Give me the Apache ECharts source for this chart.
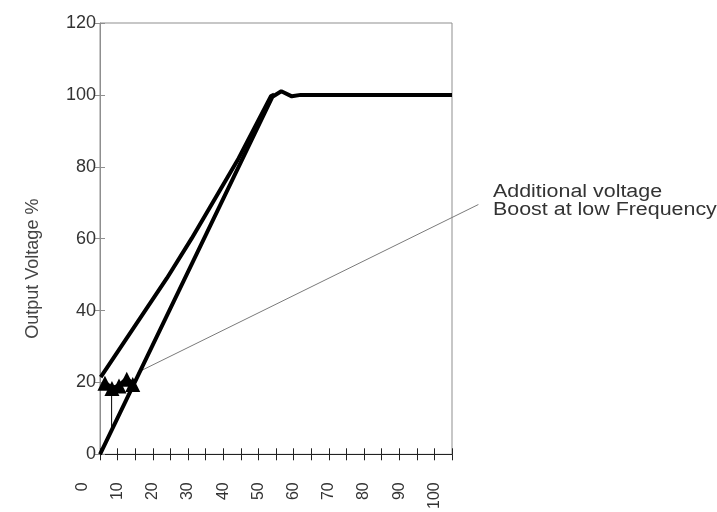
<!DOCTYPE html>
<html><head><meta charset="utf-8">
<script src="https://cdn.jsdelivr.net/npm/echarts@6/dist/echarts.min.js"></script>
<style>html,body{margin:0;padding:0;background:#fff}#c{width:717px;height:512px}</style>
</head><body><div id="c"></div>
<script>
// ---- data (frequency in the chart's labelled units, voltage in %) ----
const linearCurve  = [[5,0],[54,99.5],[56.5,101],[59.5,99.6],[62,100],[105,100]];
const boostCurve   = [[5.2,21.5],[24,49],[31,60],[44.4,82.4],[53.6,99.7],[54.5,100.1]];
const boostMarkers = [[6.4,19.8],[8.4,18.3],[10.4,19.0],[12.6,20.9],[14.3,19.4]];
const boostDrop    = [[8.3,18.4],[8.3,6.6]];
const leaderLine   = [[15.7,22.8],[112.5,69.5]];
const xMin = 5, xMax = 105, xStep = 5;
const yMin = 0, yMax = 120, yStep = 20;
const xLabelValues = [0,10,20,30,40,50,60,70,80,90,100];
const yAxisTitle = 'Output Voltage %';
const annotationLines = ['Additional voltage','Boost at low Frequency'];

const chart = echarts.init(document.getElementById('c'));
const FONT = 'Liberation Sans, Arial, sans-serif';
const grey = '#8f8f8f';

const xBase = {
  type:'value', min:xMin, max:xMax, interval:xStep,
  splitLine:{show:false}
};
chart.setOption({
  animation:false,
  grid:{left:100, right:265, top:23, bottom:52, show:true, borderColor:grey, borderWidth:1},
  xAxis:[
    Object.assign({}, xBase, {
      axisLine:{show:true, lineStyle:{color:'#222', width:1.2}},
      axisTick:{show:true, length:6, lineStyle:{color:'#222'}},
      axisLabel:{rotate:90, margin:28, fontSize:16, fontFamily:FONT, color:'#333',
        showMinLabel:true, showMaxLabel:true,
        formatter:v => xLabelValues.indexOf(v) >= 0 ? String(v) : ''}
    }),
    Object.assign({}, xBase, {
      position:'bottom',
      axisLine:{show:false}, axisLabel:{show:false},
      axisTick:{show:true, inside:true, length:6, lineStyle:{color:'#222'}}
    })
  ],
  yAxis:[
    {type:'value', min:yMin, max:yMax, interval:yStep,
      splitLine:{show:false},
      axisLine:{show:true, lineStyle:{color:grey}},
      axisTick:{show:true, length:5, lineStyle:{color:grey}},
      axisLabel:{margin:4, fontSize:18, fontFamily:FONT, color:'#333'},
      name:yAxisTitle, nameLocation:'middle', nameRotate:90, nameGap:58,
      nameTextStyle:{fontSize:18, fontFamily:FONT, color:'#444', padding:[0,60,0,0]}
    },
    {type:'value', min:yMin, max:yMax, interval:yStep, position:'left',
      splitLine:{show:false}, axisLine:{show:false}, axisLabel:{show:false},
      axisTick:{show:true, inside:true, length:5, lineStyle:{color:grey}}
    }
  ],
  series:[
    {type:'line', data:linearCurve, symbol:'none', smooth:false,
      lineStyle:{color:'#000', width:4}, z:3},
    {type:'line', data:boostCurve, symbol:'none',
      lineStyle:{color:'#000', width:4}, z:3},
    {type:'line', data:boostMarkers, symbol:'triangle', symbolSize:15,
      itemStyle:{color:'#000'}, lineStyle:{color:'#000', width:5}, z:4},
    {type:'line', data:boostDrop, symbol:'none',
      lineStyle:{color:'#000', width:1}, z:2}
  ]
});

// leader line (extends beyond the plot area) and extra texts
const toPx = p => chart.convertToPixel({xAxisIndex:0, yAxisIndex:0}, p);
const x0 = chart.convertToPixel({xAxisIndex:0}, 0);
const yAxisPx = chart.convertToPixel({yAxisIndex:0}, 0);
chart.setOption({
  graphic:[
    {type:'polyline', shape:{points:leaderLine.map(toPx)}, z:2,
      style:{stroke:'#7a7a7a', lineWidth:1, fill:null}},
    {type:'text', x:x0, y:yAxisPx+28, rotation:Math.PI/2,
      style:{text:String(xLabelValues[0]), font:'16px ' + FONT, fill:'#333', align:'right', verticalAlign:'middle'}},
    {type:'text', x:493, y:192, scaleX:1.19,
      style:{text:annotationLines[0], font:'18px ' + FONT, fill:'#333', align:'left', verticalAlign:'middle'}},
    {type:'text', x:493, y:210, scaleX:1.19,
      style:{text:annotationLines[1], font:'18px ' + FONT, fill:'#333', align:'left', verticalAlign:'middle'}}
  ]
});
</script></body></html>
